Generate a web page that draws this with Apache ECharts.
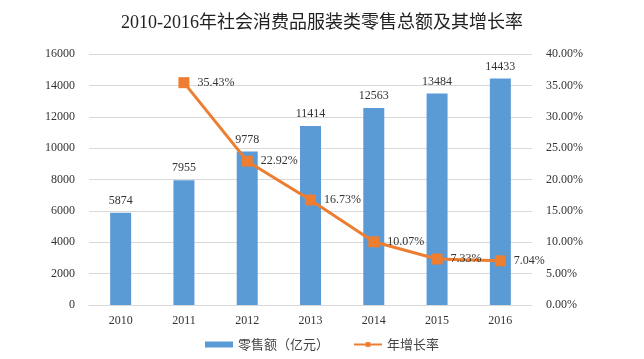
<!DOCTYPE html>
<html><head><meta charset="utf-8">
<script src="https://cdn.jsdelivr.net/npm/echarts@6/dist/echarts.min.js"></script>
<style>html,body{margin:0;padding:0;background:#fff}#c{width:644px;height:359px}</style>
</head><body><div id="c"></div>
<script>
var categories = ['2010','2011','2012','2013','2014','2015','2016'];
var salesValues = [5874, 7955, 9778, 11414, 12563, 13484, 14433];
var growthValues = [null, 35.43, 22.92, 16.73, 10.07, 7.33, 7.04];
var leftTicks = [0,2000,4000,6000,8000,10000,12000,14000,16000];
var rightTicks = [0,5,10,15,20,25,30,35,40];
var serif = 'Liberation Serif, "Times New Roman", "Noto Sans CJK SC", serif';
var chart = echarts.init(document.getElementById('c'));
chart.setOption({
  animation:false,
  backgroundColor:'#fff',
  title:{text:'2010-2016年社会消费品服装类零售总额及其增长率',left:'center',top:9,
    textStyle:{fontFamily:serif,fontSize:18,fontWeight:'normal',color:'#222'}},
  legend:{bottom:3,left:'center',itemGap:24,
    textStyle:{fontFamily:'"Noto Sans CJK SC", sans-serif',fontSize:13,color:'#444'},
    data:[{name:'零售额（亿元）',icon:'rect',itemStyle:{color:'#5B9BD5'}},{name:'年增长率'}],
    itemWidth:28,itemHeight:6},
  grid:{left:89,right:112,top:54,bottom:54},
  xAxis:{type:'category',data:categories,
    axisLine:{lineStyle:{color:'#D9D9D9'}},axisTick:{show:false},
    axisLabel:{fontFamily:serif,fontSize:12,color:'#333',margin:10}},
  yAxis:[
    {type:'value',min:leftTicks[0],max:leftTicks[leftTicks.length-1],interval:2000,
     axisLine:{show:false},axisTick:{show:false},
     splitLine:{lineStyle:{color:'#D9D9D9'}},
     axisLabel:{fontFamily:serif,fontSize:12,color:'#333',margin:14,
       formatter:function(v){return String(v);}}},
    {type:'value',min:rightTicks[0],max:rightTicks[rightTicks.length-1],interval:5,
     axisLine:{show:false},axisTick:{show:false},splitLine:{show:false},
     axisLabel:{fontFamily:serif,fontSize:12,color:'#333',margin:14,
       formatter:function(v){return v.toFixed(2)+'%';}}}
  ],
  series:[
    {name:'零售额（亿元）',type:'bar',data:salesValues,barWidth:21,
     itemStyle:{color:'#5B9BD5'},
     label:{show:true,position:'top',distance:6,fontFamily:serif,fontSize:12,color:'#333'}},
    {name:'年增长率',type:'line',yAxisIndex:1,data:growthValues,
     itemStyle:{color:'#ED7D31'},lineStyle:{color:'#ED7D31',width:3},
     symbol:'rect',symbolSize:11,connectNulls:false,
     label:{show:true,position:'right',distance:8,fontFamily:serif,fontSize:12,color:'#333',
       formatter:function(p){return p.value.toFixed(2)+'%';}}}
  ]
});
</script></body></html>
